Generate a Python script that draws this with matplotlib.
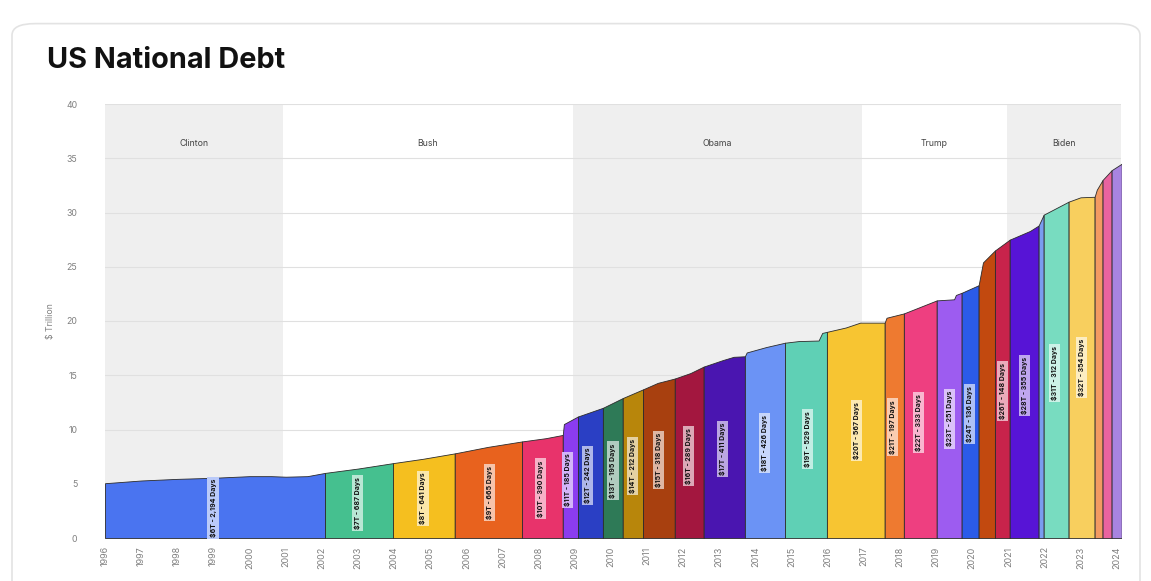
import numpy as np
import matplotlib
matplotlib.use("Agg")
import matplotlib.pyplot as plt
from matplotlib.patches import FancyBboxPatch
from matplotlib.colors import to_rgb

plt.rcParams['font.family'] = ['Inter', 'DejaVu Sans']

# debt curve (year, $ trillion)
years = [1996.0, 1997.0, 1998.0, 1999.0, 2000.0, 2000.6, 2001.0, 2001.6, 2002.09,
         2003.0, 2003.97, 2004.8, 2005.68, 2006.6, 2007.54, 2008.2, 2008.67, 2008.70,
         2009.09, 2009.78, 2010.33, 2010.89, 2011.3, 2011.77, 2012.2, 2012.57, 2013.1,
         2013.4, 2013.71, 2013.76, 2014.3, 2014.82, 2015.2, 2015.75, 2015.85, 2015.98,
         2016.5, 2016.9, 2017.58, 2017.63, 2018.11, 2019.02, 2019.5, 2019.55, 2019.71,
         2020.18, 2020.3, 2020.63, 2021.04, 2021.6, 2021.84, 2021.98, 2022.67, 2023.0,
         2023.39, 2023.45, 2023.61, 2023.86, 2024.14]
debt = [5.05, 5.3, 5.45, 5.55, 5.7, 5.7, 5.65, 5.7, 6.0,
        6.4, 6.9, 7.3, 7.8, 8.4, 8.9, 9.2, 9.5, 10.5,
        11.2, 12.0, 12.9, 13.7, 14.3, 14.7, 15.2, 15.8, 16.4,
        16.7, 16.75, 17.1, 17.6, 18.0, 18.15, 18.2, 18.9, 19.0,
        19.4, 19.85, 19.85, 20.3, 20.7, 21.9, 22.0, 22.4, 22.6,
        23.3, 25.4, 26.5, 27.5, 28.3, 28.8, 29.8, 31.0, 31.4,
        31.45, 32.1, 33.0, 33.9, 34.5]

# each colored block runs between two consecutive boundaries
bounds = [1996.0, 2002.09, 2003.97, 2005.68, 2007.54, 2008.67, 2009.09, 2009.78,
          2010.33, 2010.89, 2011.77, 2012.57, 2013.71, 2014.82, 2015.98, 2017.58,
          2018.11, 2019.02, 2019.71, 2020.18, 2020.63, 2021.04, 2021.84, 2021.98,
          2022.67, 2023.39, 2023.61, 2023.86, 2024.14]
seg_colors = ['#4a74f0', '#45c08f', '#f5bf1f', '#e8621e', '#e8336b', '#8b3cf0',
              '#2a3fc4', '#2e7a57', '#b8860b', '#a8400f', '#a3173f', '#4a15b0',
              '#6b93f5', '#5fd0b5', '#f7c532', '#ee7a30', '#ee3f80', '#9d5cf0',
              '#2b5be8', '#c2490f', '#c8234b', '#5714d6', '#7a9cf0', '#78dcc0',
              '#f8cf5e', '#f29a62', '#e9639f', '#a884e0']

label_years = [1998.99, 2003.0, 2004.8, 2006.65, 2008.06, 2008.81, 2009.36, 2010.06,
               2010.61, 2011.33, 2012.16, 2013.1, 2014.26, 2015.45, 2016.81, 2017.8,
               2018.52, 2019.38, 2019.93, 2020.85, 2021.46, 2022.29, 2023.03]
label_texts = ['$6T - 2,194 Days', '$7T - 687 Days', '$8T - 641 Days', '$9T - 665 Days',
               '$10T - 390 Days', '$11T - 185 Days', '$12T - 242 Days', '$13T - 195 Days',
               '$14T - 212 Days', '$15T - 318 Days', '$16T - 289 Days', '$17T - 411 Days',
               '$18T - 426 Days', '$19T - 529 Days', '$20T - 567 Days', '$21T - 197 Days',
               '$22T - 333 Days', '$23T - 251 Days', '$24T - 136 Days', '$26T - 148 Days',
               '$28T - 355 Days', '$31T - 312 Days', '$32T - 354 Days']

eras = ['Clinton', 'Bush', 'Obama', 'Trump', 'Biden']
era_bounds = [1996.0, 2000.93, 2008.95, 2016.95, 2020.96, 2024.14]
era_shaded = [True, False, True, False, True]

x = np.array(years)
y = np.array(debt)

fig = plt.figure(figsize=(11.51, 5.81), dpi=100)
fig.patches.append(FancyBboxPatch((12 / 1151, -0.05), 1128 / 1151, 1.03 - 12 / 581,
                                  boxstyle="round,pad=0,rounding_size=0.02",
                                  transform=fig.transFigure, fc='white',
                                  ec='#e3e3e3', lw=1.2, zorder=-5))
fig.text(47 / 1151, 1 - 61 / 581, 'US National Debt', fontsize=20.8, fontweight='bold',
         color='#111111', va='center', ha='left')

ax = fig.add_axes([105 / 1151, 1 - 538 / 581, 1016 / 1151, 434 / 581])
ax.set_zorder(2)
ax.set_facecolor('none')

for i, name in enumerate(eras):
    if era_shaded[i]:
        ax.axvspan(era_bounds[i], era_bounds[i + 1], color='#efefef', lw=0, zorder=0)
    ax.text((era_bounds[i] + era_bounds[i + 1]) / 2, 36.4, name, ha='center',
            va='center', fontsize=6.3, color='#444444')

for g in range(5, 41, 5):
    ax.axhline(g, color='#e0e0e0', lw=0.8, zorder=1)

for i in range(len(bounds) - 1):
    m = (x >= bounds[i] - 1e-9) & (x <= bounds[i + 1] + 1e-9)
    ax.fill_between(x[m], 0, y[m], facecolor=seg_colors[i], edgecolor='#2b2b2b',
                    lw=0.6, zorder=2)

for lx, txt in zip(label_years, label_texts):
    k = np.searchsorted(bounds, lx) - 1
    c = np.array(to_rgb(seg_colors[k]))
    box = 0.38 * c + 0.62 * np.ones(3)
    ax.text(lx, 0.5 * np.interp(lx, x, y), txt, rotation=90, ha='center', va='center',
            fontsize=5.0, fontweight='bold', color='#111111', zorder=4,
            bbox=dict(boxstyle='square,pad=0.3', fc=box, ec='none'))

ax.set_xlim(1996, 2024.12)
ax.set_ylim(0, 40)
ax.set_xticks(range(1996, 2025))
ax.set_xticklabels([str(v) for v in range(1996, 2025)], rotation=90, fontsize=6.5,
                   color='#808080')
ax.set_yticks(range(0, 41, 5))
ax.set_yticklabels([str(v) for v in range(0, 41, 5)], fontsize=6.3, color='#808080')
ax.tick_params(axis='both', length=0)
ax.tick_params(axis='y', pad=20)
ax.tick_params(axis='x', pad=6)
ax.set_ylabel('$ Trillion', fontsize=6.3, color='#808080', labelpad=8)
for s in ax.spines.values():
    s.set_visible(False)

fig.savefig('out.png', dpi=100, facecolor='white')
